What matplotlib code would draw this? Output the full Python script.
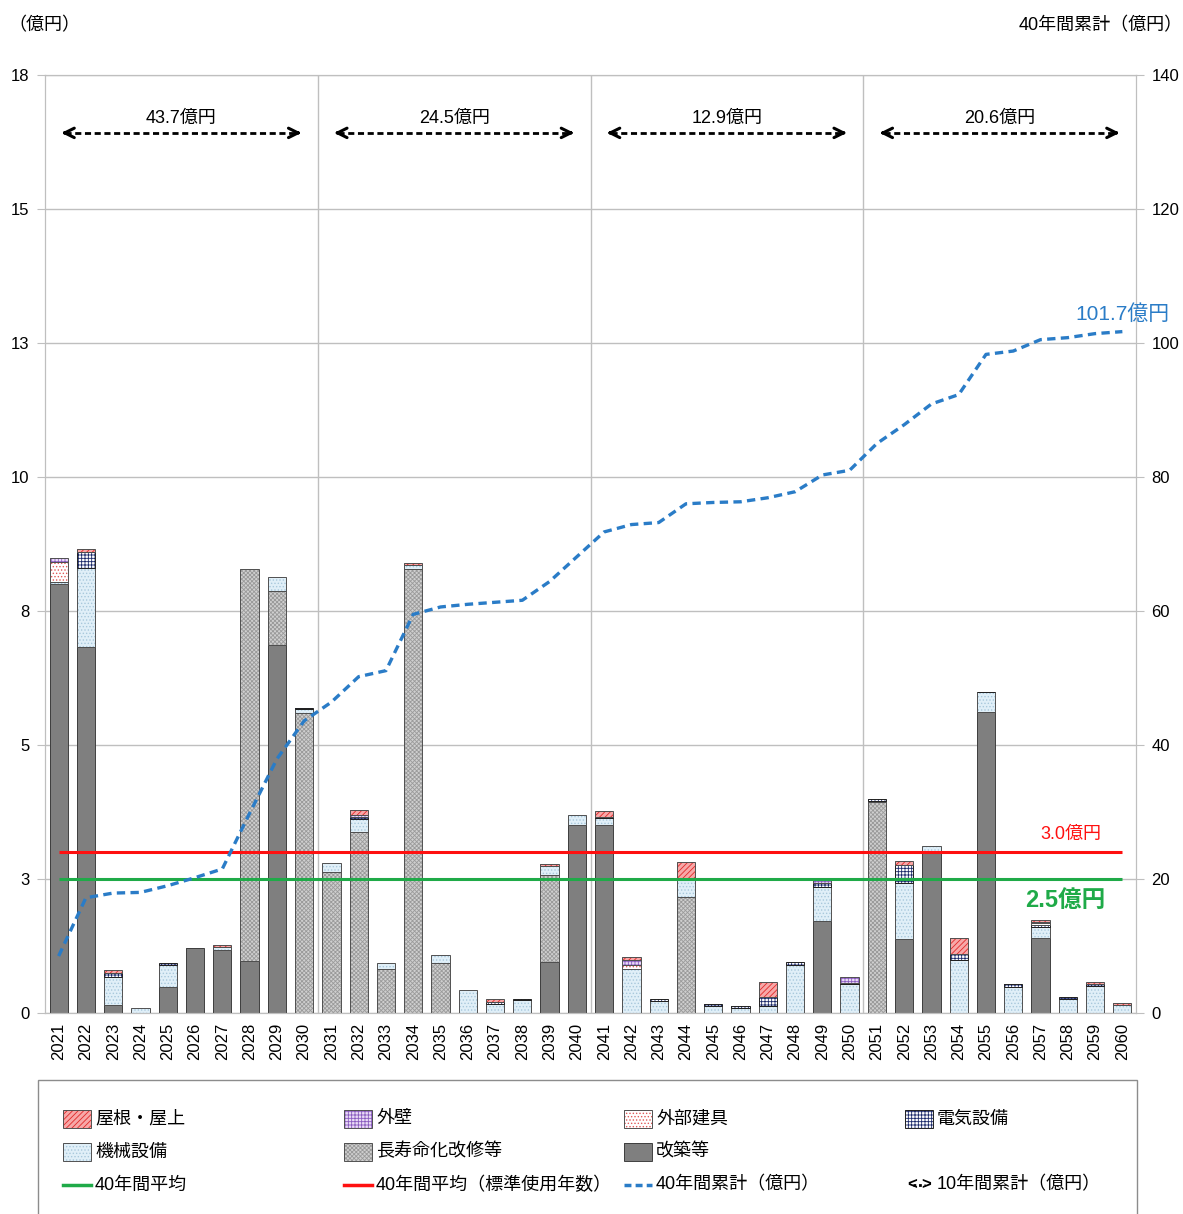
import numpy as np
import matplotlib
matplotlib.use("Agg")
import matplotlib.pyplot as plt
from matplotlib.patches import Rectangle
from matplotlib.lines import Line2D

plt.rcParams['font.family'] = ['Liberation Sans', 'Noto Sans CJK JP', 'DejaVu Sans']
plt.rcParams['hatch.linewidth'] = 0.6

# ---- data (億円) ----
years = list(range(2021, 2061))

kaichiku = [8.00, 6.82, 0.14, 0, 0.49, 1.21, 1.18, 0.97, 6.87, 0,
            0, 0, 0, 0, 0, 0, 0, 0, 0.96, 3.51,
            3.51, 0, 0, 0, 0, 0, 0, 0, 1.72, 0,
            0, 1.38, 3.01, 0, 5.62, 0, 1.39, 0, 0, 0]
chojumyo = [0, 0, 0, 0, 0, 0, 0, 7.31, 1.00, 5.59,
            2.63, 3.37, 0.83, 8.28, 0.94, 0, 0, 0, 1.61, 0,
            0, 0, 0, 2.16, 0, 0, 0, 0, 0, 0,
            3.94, 0, 0, 0, 0, 0, 0, 0, 0, 0]
kikai = [0.05, 1.48, 0.54, 0.09, 0.41, 0, 0.05, 0, 0.27, 0.08,
         0.17, 0.25, 0.11, 0.07, 0.14, 0.43, 0.16, 0.25, 0.17, 0.18,
         0.12, 0.82, 0.23, 0.33, 0.13, 0.09, 0.13, 0.90, 0.63, 0.54,
         0.02, 1.05, 0.10, 0.99, 0.36, 0.49, 0.22, 0.27, 0.50, 0.14]
denki = [0, 0.31, 0.07, 0, 0.04, 0, 0, 0, 0, 0.02,
         0, 0.03, 0, 0, 0, 0, 0.05, 0.02, 0, 0,
         0.02, 0, 0.03, 0.03, 0.04, 0.04, 0.16, 0.06, 0.07, 0.02,
         0.03, 0.33, 0, 0.11, 0.01, 0.05, 0.04, 0.03, 0.05, 0]
tategu = [0.37, 0, 0, 0, 0, 0, 0, 0, 0, 0,
          0, 0, 0, 0, 0, 0, 0, 0, 0, 0,
          0, 0.08, 0, 0, 0, 0, 0, 0, 0, 0,
          0, 0, 0, 0, 0, 0, 0.02, 0, 0, 0]
gaiheki = [0.06, 0, 0, 0, 0, 0, 0, 0, 0, 0,
           0, 0.04, 0, 0, 0, 0, 0, 0, 0, 0,
           0, 0.08, 0, 0, 0, 0, 0, 0, 0.06, 0.11,
           0, 0, 0, 0, 0, 0, 0.02, 0, 0, 0]
yane = [0, 0.04, 0.05, 0, 0, 0, 0.04, 0, 0, 0,
        0, 0.09, 0, 0.04, 0, 0, 0.06, 0, 0.04, 0,
        0.12, 0.07, 0, 0.29, 0, 0, 0.29, 0, 0.03, 0,
        0, 0.07, 0, 0.29, 0, 0, 0.05, 0, 0.03, 0.04]

cumulative = [8.5, 17.2, 17.9, 18.0, 19.0, 20.2, 21.5, 29.8, 37.9, 43.6,
              46.4, 50.2, 51.1, 59.5, 60.6, 61.0, 61.3, 61.6, 64.4, 68.1,
              71.8, 72.9, 73.2, 76.0, 76.2, 76.3, 76.9, 77.8, 80.3, 81.0,
              85.0, 87.8, 90.9, 92.3, 98.3, 98.8, 100.5, 100.8, 101.4, 101.7]

avg_40 = 2.5
avg_std = 3.0
total_40 = 101.7
decade_totals = [43.7, 24.5, 12.9, 20.6]
left_ticks = [0, 2.5, 5, 7.5, 10, 12.5, 15, 17.5]
left_tick_labels = ['0', '3', '5', '8', '10', '13', '15', '18']
right_ticks = [0, 20, 40, 60, 80, 100, 120, 140]

series = [('改築等', kaichiku), ('長寿命化改修等', chojumyo), ('機械設備', kikai),
          ('電気設備', denki), ('外部建具', tategu), ('外壁', gaiheki), ('屋根・屋上', yane)]

styles = {
    '改築等': dict(fc='#7f7f7f', hatch=None, hc='#7f7f7f', ec='#3f3f3f'),
    '長寿命化改修等': dict(fc='#cfcfcf', hatch='xxxxxxxx', hc='#9a9a9a', ec='#505050'),
    '機械設備': dict(fc='#e0eff8', hatch='.....', hc='#a8c8dc', ec='#505050'),
    '電気設備': dict(fc='#ffffff', hatch='+++++', hc='#1c2a6b', ec='#202020'),
    '外部建具': dict(fc='#ffffff', hatch='.....', hc='#e05858', ec='#505050'),
    '外壁': dict(fc='#eadcf6', hatch='+++++', hc='#8a5cc0', ec='#505050'),
    '屋根・屋上': dict(fc='#f7a8a8', hatch='//////', hc='#e02828', ec='#505050'),
}

W, H = 1183, 1214


def fx(px):
    return px / W


def fy(py):
    return 1 - py / H


grid_c = '#bfbfbf'
fig = plt.figure(figsize=(W / 100, H / 100), dpi=100)
ax = fig.add_axes([fx(45), fy(1013), (1136 - 45) / W, (1013 - 75) / H])

x = np.arange(len(years))
bottom = np.zeros(len(years))
for name, vals in series:
    vals = np.array(vals, dtype=float)
    st = styles[name]
    m = vals > 0
    ax.bar(x[m], vals[m], bottom=bottom[m], width=0.67, color=st['fc'], hatch=st['hatch'],
           edgecolor=st['hc'], linewidth=0, zorder=2)
    ax.bar(x[m], vals[m], bottom=bottom[m], width=0.67, fill=False,
           edgecolor=st['ec'], linewidth=0.7, zorder=3)
    bottom += vals

ax.hlines(avg_std, x[0], x[-1], color='#ff1010', lw=2.2, zorder=4)
ax.hlines(avg_40, x[0], x[-1], color='#1faa48', lw=2.2, zorder=4)

ax.set_xlim(-0.5, len(years) - 0.5)
ax.set_ylim(0, 17.5)
ax.set_yticks(left_ticks)
ax.set_yticklabels(left_tick_labels, fontsize=12)
ax.set_xticks(x)
ax.set_xticklabels(years, rotation=90, fontsize=12)
ax.tick_params(axis='x', length=0, pad=7)
ax.tick_params(axis='y', length=6, color=grid_c, pad=5)
ax.yaxis.grid(True, color=grid_c, lw=1)
ax.set_axisbelow(True)
for b in [9.5, 19.5, 29.5]:
    ax.axvline(b, color=grid_c, lw=1, zorder=1)
for s in ax.spines.values():
    s.set_color(grid_c)

# decade totals with dashed arrows
arrow_y, text_y = 16.42, 16.68
for i, tot in enumerate(decade_totals):
    i0, i1 = 10 * i, 10 * i + 9
    ax.plot([i0 + 0.25, i1 - 0.25], [arrow_y, arrow_y], color='black', lw=2,
            ls=(0, (2.2, 1.3)), zorder=5)
    ax.annotate('', xy=(i0, arrow_y), xytext=(i0 + 0.4, arrow_y),
                arrowprops=dict(arrowstyle='->', lw=2.2, color='black', mutation_scale=17))
    ax.annotate('', xy=(i1, arrow_y), xytext=(i1 - 0.4, arrow_y),
                arrowprops=dict(arrowstyle='->', lw=2.2, color='black', mutation_scale=17))
    ax.text((i0 + i1) / 2, text_y, f'{tot}億円', ha='center', va='center', fontsize=13)

ax.text(37.1, avg_std + 0.33, f'{avg_std:.1f}億円', color='#ff1010', ha='center',
        va='center', fontsize=13)
ax.text(36.9, avg_40 - 0.4, f'{avg_40}億円', color='#1faa48', ha='center', va='center',
        fontsize=17, fontweight='bold')

ax2 = ax.twinx()
ax2.set_ylim(0, 140)
ax2.set_yticks(right_ticks)
ax2.tick_params(axis='y', length=6, color=grid_c, labelsize=12, pad=5)
for s in ax2.spines.values():
    s.set_color(grid_c)
ax2.plot(x, cumulative, color='#2a7cc7', lw=2.4, ls=(0, (2.5, 1.6)), zorder=5)
ax2.text(39, 104.3, f'{total_40}億円', color='#2a7cc7', ha='center', va='center',
         fontsize=15, clip_on=False)

fig.text(fx(8), fy(26), '（億円）', fontsize=13, va='center', ha='left')
fig.text(fx(1183), fy(26), '40年間累計（億円）', fontsize=13, va='center', ha='right')

# ---- legend box ----
fig.add_artist(Rectangle((fx(38), fy(1240)), (1137 - 38) / W, (1240 - 1080) / H,
                         transform=fig.transFigure, fill=False, edgecolor='#8c8c8c', lw=1))
col_x = [63, 344, 624, 905]
row_y = [1119, 1152, 1185]
patch_items = [('屋根・屋上', 0, 0), ('外壁', 1, 0), ('外部建具', 2, 0), ('電気設備', 3, 0),
               ('機械設備', 0, 1), ('長寿命化改修等', 1, 1), ('改築等', 2, 1)]
for name, c, r in patch_items:
    st = styles[name]
    px, py = col_x[c], row_y[r]
    fig.add_artist(Rectangle((fx(px), fy(py + 9)), 28 / W, 18 / H, transform=fig.transFigure,
                             facecolor=st['fc'], hatch=st['hatch'], edgecolor=st['hc'], lw=0))
    fig.add_artist(Rectangle((fx(px), fy(py + 9)), 28 / W, 18 / H, transform=fig.transFigure,
                             fill=False, edgecolor=st['ec'], lw=0.7))
    fig.text(fx(px + 32), fy(py), name, fontsize=13, va='center', ha='left')

line_items = [('40年間平均', 0, dict(color='#1faa48', lw=2.5, ls='-')),
              ('40年間平均（標準使用年数）', 1, dict(color='#ff1010', lw=2.5, ls='-')),
              ('40年間累計（億円）', 2, dict(color='#2a7cc7', lw=2.5, ls=(0, (2, 1.2))))]
for label, c, kw in line_items:
    px, py = col_x[c], row_y[2]
    fig.add_artist(Line2D([fx(px), fx(px + 28)], [fy(py), fy(py)], transform=fig.transFigure, **kw))
    fig.text(fx(px + 32), fy(py), label, fontsize=13, va='center', ha='left')

px, py = col_x[3], row_y[2]
fig.add_artist(Line2D([fx(px + 8), fx(px + 20)], [fy(py), fy(py)], transform=fig.transFigure,
                      color='black', lw=2, ls=(0, (1, 1))))
fig.text(fx(px + 2), fy(py), '<', fontsize=12, fontweight='bold', va='center', ha='left')
fig.text(fx(px + 26), fy(py), '>', fontsize=12, fontweight='bold', va='center', ha='right')
fig.text(fx(px + 32), fy(py), '10年間累計（億円）', fontsize=13, va='center', ha='left')

fig.savefig('out.png', dpi=100)
